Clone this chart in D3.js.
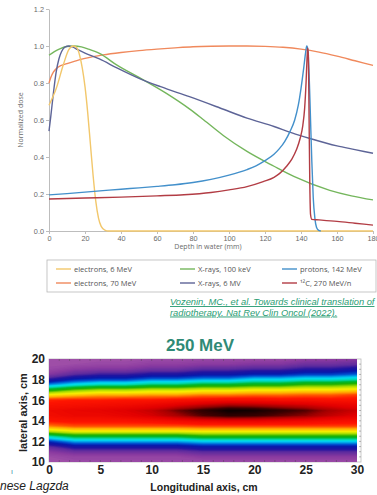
<!DOCTYPE html>
<html lang="en">
<head>
<meta charset="UTF-8">
<title>Depth dose and 250 MeV lateral profile</title>
<script src="https://cdn.jsdelivr.net/npm/d3@7"></script>
<style>
  html, body { margin: 0; padding: 0; background: #fff; }
  svg { display: block; }
  .ax path, .ax line { stroke: #bdbdbd; }
  .ax text { fill: #6a6a6a; font-size: 7.3px; }
  .hax path { display: none; }
  .hax text { fill: #222; font-size: 12px; font-weight: bold; }
</style>
</head>
<body>
<svg id="fig" width="377" height="495"></svg>
<script>
// ---- top panel: normalized depth-dose curves (depth mm, dose) ----
var depthTicks = [0, 20, 40, 60, 80, 100, 120, 140, 160, 180];
var doseTicks = [0, 0.2, 0.4, 0.6, 0.8, 1.0, 1.2];

var electrons6 = [[0,0.68],[4,0.77],[8,0.9],[11,0.98],[13.5,1.0],[15.5,0.99],[17,0.95],[18.5,0.88],[20,0.78],[21.5,0.64],[23,0.47],[24.5,0.30],[26,0.16],[27.5,0.07],[29,0.025],[31,0.005],[33,0],[180,0]];
var electrons70 = [[0,0.80],[1,0.83],[2.5,0.86],[5,0.885],[10,0.905],[15,0.92],[20,0.933],[30,0.952],[40,0.965],[50,0.975],[60,0.983],[70,0.99],[80,0.996],[90,0.999],[100,1.0],[110,1.0],[120,0.998],[130,0.993],[140,0.983],[150,0.967],[160,0.945],[170,0.92],[180,0.895]];
var xray100k = [[0,0.95],[3,0.97],[6,0.985],[10,0.997],[14,1.0],[18,0.995],[22,0.983],[28,0.96],[38,0.895],[50,0.83],[65,0.745],[78,0.66],[86,0.60],[97,0.515],[110,0.43],[125,0.35],[136,0.295],[156,0.22],[168,0.19],[180,0.168]];
var xray6M = [[0,0.54],[1,0.62],[2.5,0.75],[4,0.86],[5.5,0.93],[7,0.97],[9,0.995],[11,1.0],[13,0.995],[16,0.98],[20,0.962],[28,0.93],[38,0.88],[50,0.825],[62,0.78],[78,0.726],[95,0.665],[110,0.61],[125,0.565],[135,0.53],[145,0.50],[160,0.46],[170,0.44],[180,0.42]];
var protons142 = [[0,0.195],[10,0.202],[20,0.21],[30,0.218],[40,0.226],[50,0.233],[60,0.241],[70,0.25],[80,0.262],[90,0.279],[100,0.302],[110,0.332],[115,0.352],[120,0.38],[125,0.415],[128,0.445],[131,0.485],[134,0.54],[136.5,0.6],[138.5,0.68],[140,0.77],[141.5,0.88],[142.5,0.96],[143.2,1.0],[143.8,0.98],[144.5,0.85],[145.3,0.6],[146,0.38],[146.8,0.18],[147.7,0.07],[148.6,0.02],[149.6,0.005],[151,0]];
var carbon270 = [[0,0.173],[20,0.178],[40,0.183],[60,0.19],[75,0.196],[90,0.208],[100,0.222],[110,0.24],[119,0.267],[125,0.29],[128,0.31],[132,0.35],[135,0.39],[137.5,0.44],[139.5,0.5],[141,0.57],[142,0.66],[142.8,0.8],[143.3,0.92],[143.7,0.99],[144.1,0.95],[144.5,0.6],[144.9,0.25],[145.3,0.09],[146,0.063],[150,0.06],[160,0.052],[170,0.042],[180,0.032]];

var seriesNames = ['electrons, 6 MeV', 'electrons, 70 MeV', 'X-rays, 100 keV', 'X-rays, 6 MV', 'protons, 142 MeV', '\u00b9\u00b2C, 270 MeV/n'];
var seriesData = [electrons6, electrons70, xray100k, xray6M, protons142, carbon270];
var seriesColors = ['#f2c76b', '#f0895c', '#74b65c', '#5d6497', '#4390cb', '#b23c44'];
var drawOrder = [1, 2, 3, 0, 4, 5];
var legendCol = [0, 0, 1, 1, 2, 2];
var legendRow = [0, 1, 0, 1, 0, 1];

// ---- bottom panel: 250 MeV dose map, columns along longitudinal axis, rows = lateral 10..20 cm ----
var longPos = [0, 2.5, 5, 7.5, 10, 12.5, 15, 17.5, 20, 22.5, 25, 27.5, 30];
var latPos = [10, 10.5, 11, 11.5, 12, 12.5, 13, 13.5, 14, 14.5, 15, 15.5, 16, 16.5, 17, 17.5, 18, 18.5, 19, 19.5, 20];
var doseColumns = [
  [0.00,0.01,0.05,0.10,0.19,0.32,0.50,0.63,0.71,0.74,0.75,0.72,0.69,0.55,0.39,0.24,0.13,0.06,0.02,0.00,0.00], // 0
  [0.01,0.03,0.08,0.15,0.25,0.38,0.54,0.66,0.72,0.76,0.77,0.73,0.70,0.58,0.45,0.29,0.18,0.10,0.05,0.01,0.00], // 2.5
  [0.01,0.03,0.08,0.15,0.25,0.38,0.54,0.66,0.72,0.76,0.78,0.74,0.70,0.60,0.48,0.32,0.20,0.12,0.06,0.02,0.00], // 5
  [0.01,0.03,0.08,0.15,0.25,0.38,0.54,0.66,0.72,0.78,0.80,0.75,0.71,0.60,0.48,0.32,0.20,0.12,0.06,0.02,0.00], // 7.5
  [0.01,0.03,0.08,0.15,0.25,0.38,0.54,0.66,0.73,0.81,0.83,0.77,0.71,0.61,0.50,0.35,0.23,0.14,0.08,0.04,0.01], // 10
  [0.01,0.03,0.08,0.15,0.25,0.38,0.54,0.66,0.75,0.86,0.90,0.80,0.72,0.61,0.50,0.35,0.23,0.14,0.08,0.04,0.01], // 12.5
  [0.01,0.05,0.10,0.17,0.27,0.41,0.55,0.67,0.77,0.92,0.95,0.84,0.73,0.63,0.52,0.38,0.25,0.16,0.10,0.05,0.02], // 15
  [0.01,0.05,0.10,0.17,0.27,0.41,0.55,0.67,0.78,0.95,0.99,0.87,0.74,0.63,0.52,0.38,0.25,0.16,0.10,0.05,0.02], // 17.5
  [0.01,0.05,0.10,0.17,0.27,0.41,0.55,0.67,0.78,0.94,0.98,0.86,0.74,0.64,0.54,0.40,0.28,0.18,0.11,0.06,0.02], // 20
  [0.01,0.05,0.10,0.17,0.27,0.41,0.55,0.67,0.77,0.91,0.95,0.84,0.73,0.64,0.54,0.40,0.28,0.18,0.11,0.06,0.02], // 22.5
  [0.01,0.05,0.10,0.17,0.27,0.41,0.55,0.67,0.76,0.88,0.92,0.82,0.73,0.65,0.55,0.43,0.30,0.20,0.13,0.08,0.04], // 25
  [0.01,0.05,0.10,0.17,0.27,0.41,0.55,0.67,0.74,0.83,0.86,0.79,0.72,0.65,0.55,0.43,0.30,0.20,0.13,0.08,0.04], // 27.5
  [0.01,0.05,0.10,0.17,0.27,0.41,0.55,0.67,0.73,0.79,0.82,0.77,0.72,0.67,0.56,0.45,0.32,0.22,0.15,0.09,0.05]  // 30
];
var longTicks = [0, 5, 10, 15, 20, 25, 30];
var latTicks = [10, 12, 14, 16, 18, 20];

// colour map: purple -> blue -> cyan -> green -> yellow -> red -> black
var heatStops = [0, 0.05, 0.10, 0.13, 0.17, 0.21, 0.25, 0.28, 0.32, 0.37, 0.42, 0.48, 0.54, 0.60, 0.65, 0.70, 0.80, 0.87, 0.93, 1.0];
var heatHex = ['#a050a8','#8a3aa0','#5a2a9e','#2414a0','#0818aa','#0050d0','#00a8e8','#00dcf0','#00d8b0','#00b830','#20b000','#a8dc00','#f8f000','#ffb000','#ff5a00','#ff1500','#e00000','#a00000','#400000','#000000'];

var svg = d3.select('#fig');
svg.append('rect').attr('width', 377).attr('height', 495).attr('fill', '#fff');

// ===== top chart =====
var x = d3.scaleLinear().domain([0, 180]).range([49, 373]);
var y = d3.scaleLinear().domain([0, 1.2]).range([231, 9]);

var topG = svg.append('g').attr('font-family', "'Open Sans', 'Noto Sans', sans-serif");

topG.append('g').attr('class', 'ax')
  .attr('transform', 'translate(0,' + y(0) + ')')
  .call(d3.axisBottom(x).tickValues(depthTicks).tickSize(3).tickSizeOuter(0).tickPadding(2));

topG.append('g').attr('class', 'ax')
  .attr('transform', 'translate(' + x(0) + ',0)')
  .call(d3.axisLeft(y).tickValues(doseTicks).tickFormat(d3.format('.1f')).tickSize(3).tickSizeOuter(0).tickPadding(2));

topG.append('text')
  .attr('transform', 'translate(21,' + y(0.6) + ') rotate(-90)')
  .attr('text-anchor', 'middle').attr('dy', '0.35em')
  .attr('font-size', 7).attr('fill', '#6a6a6a')
  .text('Normalized dose');

topG.append('text')
  .attr('x', 208).attr('y', 249)
  .attr('text-anchor', 'middle')
  .attr('font-size', 7).attr('fill', '#6a6a6a')
  .text('Depth in water (mm)');

var line = d3.line()
  .x(function(d) { return x(d[0]); })
  .y(function(d) { return y(d[1]); })
  .curve(d3.curveMonotoneX);

topG.append('g').selectAll('path')
  .data(drawOrder)
  .join('path')
  .attr('d', function(i) { return line(seriesData[i]); })
  .attr('fill', 'none')
  .attr('stroke', function(i) { return seriesColors[i]; })
  .attr('stroke-width', 1.4)
  .attr('stroke-linejoin', 'round');

// legend
var legColX = [56, 180, 282];
var legRowY = [269, 283];
var legend = topG.append('g');
legend.append('rect')
  .attr('x', 47).attr('y', 260).attr('width', 329).attr('height', 32)
  .attr('fill', '#fff').attr('stroke', '#b8b8b8').attr('stroke-width', 0.8);
var li = legend.selectAll('g.li').data(d3.range(seriesNames.length)).join('g')
  .attr('transform', function(i) { return 'translate(' + legColX[legendCol[i]] + ',' + legRowY[legendRow[i]] + ')'; });
li.append('line').attr('x1', 0).attr('x2', 15).attr('y1', 0).attr('y2', 0)
  .attr('stroke', function(i) { return seriesColors[i]; }).attr('stroke-width', 1.4);
li.append('text').attr('x', 18).attr('dy', '0.35em')
  .attr('font-size', 7.5).attr('fill', '#555')
  .text(function(i) { return seriesNames[i]; });

// citation (runs off the right edge, as in the source slide)
var cite = svg.append('g')
  .attr('font-family', "'Liberation Sans', Arial, sans-serif")
  .attr('font-style', 'italic').attr('font-size', 9.3)
  .attr('fill', '#2a9d74').attr('text-decoration', 'underline');
cite.append('text').attr('x', 170).attr('y', 305).text('Vozenin, MC., et al. Towards clinical translation of');
cite.append('text').attr('x', 170).attr('y', 315.5).text('radiotherapy. Nat Rev Clin Oncol (2022).');

// ===== bottom heat map =====
var hx = d3.scaleLinear().domain([0, 30]).range([49, 357]);
var hy = d3.scaleLinear().domain([10, 20]).range([462, 359]);
var heatColor = d3.scaleLinear().domain(heatStops).range(heatHex).clamp(true);

var heat = svg.append('g').attr('font-family', "'Liberation Sans', Arial, sans-serif");

heat.append('text')
  .attr('x', 200).attr('y', 351)
  .attr('text-anchor', 'middle')
  .attr('font-size', 17).attr('font-weight', 'bold').attr('fill', '#2f8a76')
  .text('250 MeV');

// frame (plot area extends a little past x = 30)
heat.append('rect')
  .attr('x', hx(0)).attr('y', hy(20))
  .attr('width', hx(30) + 4 - hx(0)).attr('height', hy(10) - hy(20))
  .attr('fill', '#fff').attr('stroke', '#bbb').attr('stroke-width', 0.8);

var defs = svg.append('defs');
defs.append('clipPath').attr('id', 'heatClip')
  .append('rect')
  .attr('x', hx(0)).attr('y', hy(20))
  .attr('width', hx(30) - hx(0)).attr('height', hy(10) - hy(20));

var n = longPos.length, m = latPos.length;
var values = new Array(n * m);
doseColumns.forEach(function(col, i) {
  col.forEach(function(v, j) { values[i + j * n] = v; });
});
var contours = d3.contours().size([n, m]).thresholds(d3.range(0, 1.0, 0.01))(values);
var gx = d3.scaleLinear().domain([0.5, n - 0.5]).range([longPos[0], longPos[n - 1]]);
var gy = d3.scaleLinear().domain([0.5, m - 0.5]).range([latPos[0], latPos[m - 1]]);
var heatPath = d3.geoPath(d3.geoTransform({
  point: function(px, py) { this.stream.point(hx(gx(px)), hy(gy(py))); }
}));

heat.append('g').attr('clip-path', 'url(#heatClip)')
  .selectAll('path')
  .data(contours)
  .join('path')
  .attr('d', heatPath)
  .attr('fill', function(d) { return heatColor(d.value + 0.005); });

// small inner tick marks on the frame
var tickG = heat.append('g').attr('stroke', '#444').attr('stroke-width', 0.6).attr('opacity', 0.6);
tickG.selectAll('line.tt').data(d3.range(1, 30)).join('line')
  .attr('x1', function(d) { return hx(d); }).attr('x2', function(d) { return hx(d); })
  .attr('y1', hy(20)).attr('y2', hy(20) + 2);
tickG.selectAll('line.tb').data(d3.range(1, 30)).join('line')
  .attr('x1', function(d) { return hx(d); }).attr('x2', function(d) { return hx(d); })
  .attr('y1', hy(10)).attr('y2', hy(10) - 2);
tickG.selectAll('line.tr').data(d3.range(10.5, 20, 0.5)).join('line')
  .attr('x1', hx(30) + 4).attr('x2', hx(30) + 2)
  .attr('y1', function(d) { return hy(d); }).attr('y2', function(d) { return hy(d); });

heat.append('g').attr('class', 'hax')
  .attr('transform', 'translate(' + hx(0) + ',0)')
  .call(d3.axisLeft(hy).tickValues(latTicks).tickSize(0).tickPadding(4));

heat.append('g').attr('class', 'hax')
  .attr('transform', 'translate(0,' + hy(10) + ')')
  .call(d3.axisBottom(hx).tickValues(longTicks).tickSize(0).tickPadding(3));

heat.append('text')
  .attr('transform', 'translate(23,' + hy(14.8) + ') rotate(-90)')
  .attr('text-anchor', 'middle').attr('dy', '0.35em')
  .attr('font-size', 11).attr('font-weight', 'bold').attr('fill', '#222')
  .text('lateral axis, cm');

heat.append('text')
  .attr('x', 204).attr('y', 491)
  .attr('text-anchor', 'middle')
  .attr('font-size', 10.5).attr('font-weight', 'bold').attr('fill', '#222')
  .text('Longitudinal axis, cm');

heat.append('text')
  .attr('x', 0).attr('y', 490)
  .attr('font-size', 12).attr('font-style', 'italic').attr('fill', '#222')
  .text('nese Lagzda');

heat.append('text')
  .attr('x', 11).attr('y', 474)
  .attr('font-size', 7).attr('fill', '#2f7fa0')
  .text('\u0131');
</script>
</body>
</html>
